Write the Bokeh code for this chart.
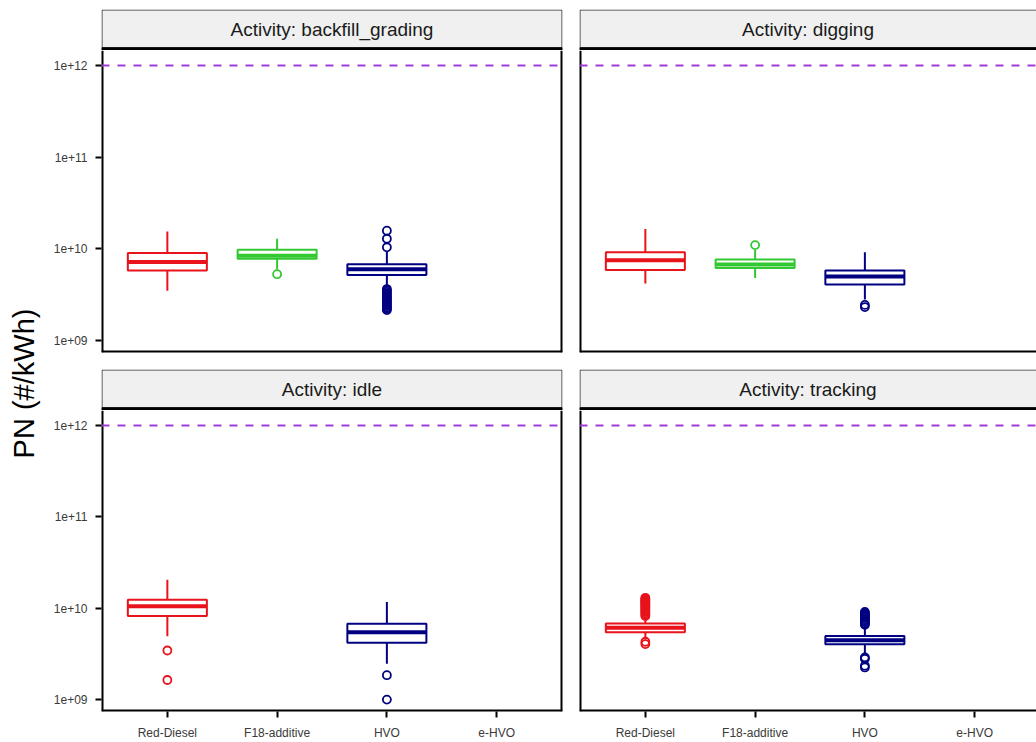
from math import pi

from bokeh.core.properties import value
from bokeh.embed import file_html
from bokeh.layouts import column, row
from bokeh.models import ColumnDataSource, FixedTicker, Range1d, Span
from bokeh.plotting import figure
from bokeh.resources import INLINE
from bokeh.transform import dodge

# ---------------------------------------------------------------- data
FUELS = ["Red-Diesel", "F18-additive", "HVO", "e-HVO"]
FUEL_COLORS = ["#e8131b", "#32c832", "#000080", "#7f7f7f"]
ACTIVITIES = ["backfill_grading", "digging", "idle", "tracking"]

Y_TICKS = [1e9, 1e10, 1e11, 1e12]
Y_TICK_LABELS = ["1e+09", "1e+10", "1e+11", "1e+12"]
PN_LIMIT = 1e12
Y_LABEL = "PN (#/kWh)"

# backfill_grading
bg_fuel = ["Red-Diesel", "F18-additive", "HVO"]
bg_low = [3.5e9, 5.95e9, 3.9e9]
bg_q1 = [5.8e9, 7.8e9, 5.2e9]
bg_med = [7.2e9, 8.4e9, 6.0e9]
bg_q3 = [9.0e9, 9.76e9, 6.8e9]
bg_high = [1.55e10, 1.29e10, 9.3e9]
bg_out_f18 = [5.3e9]
bg_out_hvo = [1.58e10, 1.29e10, 1.04e10,
              3.65e9, 3.52e9, 3.4e9, 3.28e9, 3.16e9, 3.05e9, 2.94e9, 2.84e9,
              2.74e9, 2.64e9, 2.55e9, 2.46e9, 2.38e9, 2.3e9, 2.22e9, 2.15e9]

# digging
dg_fuel = ["Red-Diesel", "F18-additive", "HVO"]
dg_low = [4.2e9, 4.8e9, 2.8e9]
dg_q1 = [5.9e9, 6.2e9, 4.1e9]
dg_med = [7.5e9, 6.75e9, 5.0e9]
dg_q3 = [9.2e9, 7.65e9, 5.8e9]
dg_high = [1.65e10, 9.7e9, 9.2e9]
dg_out_f18 = [1.1e10]
dg_out_hvo = [2.45e9, 2.32e9]

# idle
id_fuel = ["Red-Diesel", "HVO"]
id_low = [4.95e9, 2.47e9]
id_q1 = [8.2e9, 4.19e9]
id_med = [1.05e10, 5.47e9]
id_q3 = [1.24e10, 6.75e9]
id_high = [2.05e10, 1.17e10]
id_out_red = [3.45e9, 1.64e9]
id_out_hvo = [1.85e9, 1.0e9]

# tracking
tr_fuel = ["Red-Diesel", "HVO"]
tr_low = [4.55e9, 3.1e9]
tr_q1 = [5.47e9, 4.03e9]
tr_med = [6.1e9, 4.45e9]
tr_q3 = [6.8e9, 4.97e9]
tr_high = [7.8e9, 6.3e9]
tr_out_red = [1.3e10, 1.27e10, 1.24e10, 1.21e10, 1.18e10, 1.15e10, 1.12e10,
              1.09e10, 1.06e10, 1.03e10, 1.0e10, 9.7e9, 9.4e9, 9.1e9, 8.8e9,
              8.5e9, 8.2e9, 4.3e9, 4.05e9]
tr_out_hvo = [9.1e9, 8.85e9, 8.6e9, 8.35e9, 8.1e9, 7.85e9, 7.6e9, 7.4e9,
              7.2e9, 7.0e9, 6.8e9, 6.6e9, 2.9e9, 2.8e9, 2.35e9, 2.25e9]

# ---------------------------------------------------------------- styling
FONT = value("Liberation Sans")
FUEL_POS = {f: i + 1 for i, f in enumerate(FUELS)}
FUEL_COLOR = dict(zip(FUELS, FUEL_COLORS))
BOX_W = 0.72
Y_LO, Y_HI = 10 ** 8.87, 10 ** 12.164
X_LO = 0.4
PX_PER_UNIT = 461 / 4.2

LEFT_W, RIGHT_W = 521, 465          # figure widths of the two facet columns
LEFT_FRAME, RIGHT_FRAME = 461, 457  # plotting-area widths
LEFT_MB = (51, 9)
RIGHT_MB = (8, 0)


def border(p, loc, dim, width=4):
    p.add_layout(Span(location=loc, dimension=dim, line_color="black",
                      line_width=width))


def make_strip(label, width, frame_w, mb, closed):
    s = figure(width=width, height=50, x_range=Range1d(0, frame_w),
               y_range=Range1d(0, 41), min_border_top=9, min_border_bottom=0,
               min_border_left=mb[0], min_border_right=mb[1],
               x_axis_location=None, y_axis_location=None,
               toolbar_location=None, output_backend="svg")
    s.grid.visible = False
    s.outline_line_color = None
    s.border_fill_color = "white"
    s.background_fill_color = "white"
    right = frame_w - 0.5 if closed else frame_w + 5
    s.quad(left=0.5, right=right, bottom=3, top=40.5, fill_color="#f0f0f0",
           line_color="#333333", line_width=1)
    s.quad(left=-1, right=frame_w + 5, bottom=-1, top=3, fill_color="black",
           line_color=None)
    s.text(x=[frame_w / 2], y=[21.5], text=["Activity: " + label],
           text_align="center", text_baseline="middle", text_font=FONT,
           text_font_size="19px", text_color="#1a1a1a")
    return s


def make_panel(width, height, frame_w, mb, mb_bottom, show_x, show_y, closed,
               fuels, low, q1, med, q3, high, outliers):
    x_hi = X_LO + frame_w / PX_PER_UNIT
    p = figure(width=width, height=height, x_range=Range1d(X_LO, x_hi),
               y_range=Range1d(Y_LO, Y_HI), y_axis_type="log",
               x_axis_location="below" if show_x else None,
               y_axis_location="left" if show_y else None,
               min_border_left=mb[0], min_border_right=mb[1],
               min_border_top=0, min_border_bottom=mb_bottom,
               toolbar_location=None, output_backend="svg")
    p.grid.visible = False
    p.outline_line_color = None
    p.border_fill_color = "white"
    p.background_fill_color = "white"

    for ax in p.yaxis:
        ax.ticker = FixedTicker(ticks=Y_TICKS)
        ax.major_label_overrides = dict(zip(Y_TICKS, Y_TICK_LABELS))
    for ax in p.xaxis:
        ax.ticker = FixedTicker(ticks=[FUEL_POS[f] for f in FUELS])
        ax.major_label_overrides = {FUEL_POS[f]: f for f in FUELS}
    for ax in list(p.xaxis) + list(p.yaxis):
        ax.axis_line_color = None
        ax.major_tick_line_color = "black"
        ax.major_tick_line_width = 2
        ax.major_tick_out = 6
        ax.major_tick_in = 0
        ax.minor_tick_line_color = None
        ax.major_label_text_font = "Liberation Sans"
        ax.major_label_text_font_size = "12px"
        ax.major_label_text_color = "#3a3a3a"
        ax.major_label_standoff = 8

    # panel frame (left, bottom and, for the inner column, right edges)
    border(p, X_LO, "height")
    border(p, Y_LO, "width")
    if closed:
        border(p, x_hi, "height")

    # regulatory limit
    p.add_layout(Span(location=PN_LIMIT, dimension="width",
                      line_color="#a03cd6", line_width=2, line_dash="8 8"))

    src = ColumnDataSource(dict(
        x=[FUEL_POS[f] for f in fuels], low=low, q1=q1, med=med, q3=q3,
        high=high, color=[FUEL_COLOR[f] for f in fuels]))
    p.segment(x0="x", x1="x", y0="q3", y1="high", line_color="color",
              line_width=2, source=src)
    p.segment(x0="x", x1="x", y0="low", y1="q1", line_color="color",
              line_width=2, source=src)
    p.vbar(x="x", width=BOX_W, top="q3", bottom="q1", fill_color="white",
           line_color="color", line_width=2, source=src)
    p.segment(x0=dodge("x", -BOX_W / 2), x1=dodge("x", BOX_W / 2), y0="med",
              y1="med", line_color="color", line_width=4, source=src)

    for fuel, vals in outliers:
        p.scatter(x=[FUEL_POS[fuel]] * len(vals), y=vals, marker="circle",
                  size=8, fill_color=None, line_color=FUEL_COLOR[fuel],
                  line_width=1.8)
    return p


# ---------------------------------------------------------------- facets
strip_tl = make_strip(ACTIVITIES[0], LEFT_W, LEFT_FRAME, LEFT_MB, True)
strip_tr = make_strip(ACTIVITIES[1], RIGHT_W, RIGHT_FRAME, RIGHT_MB, False)
strip_bl = make_strip(ACTIVITIES[2], LEFT_W, LEFT_FRAME, LEFT_MB, True)
strip_br = make_strip(ACTIVITIES[3], RIGHT_W, RIGHT_FRAME, RIGHT_MB, False)

panel_tl = make_panel(LEFT_W, 310, LEFT_FRAME, LEFT_MB, 8, False, True, True,
                      bg_fuel, bg_low, bg_q1, bg_med, bg_q3, bg_high,
                      [("F18-additive", bg_out_f18), ("HVO", bg_out_hvo)])
panel_tr = make_panel(RIGHT_W, 310, RIGHT_FRAME, RIGHT_MB, 8, False, False, False,
                      dg_fuel, dg_low, dg_q1, dg_med, dg_q3, dg_high,
                      [("F18-additive", dg_out_f18), ("HVO", dg_out_hvo)])
panel_bl = make_panel(LEFT_W, 332, LEFT_FRAME, LEFT_MB, 30, True, True, True,
                      id_fuel, id_low, id_q1, id_med, id_q3, id_high,
                      [("Red-Diesel", id_out_red), ("HVO", id_out_hvo)])
panel_br = make_panel(RIGHT_W, 332, RIGHT_FRAME, RIGHT_MB, 30, True, False, False,
                      tr_fuel, tr_low, tr_q1, tr_med, tr_q3, tr_high,
                      [("Red-Diesel", tr_out_red), ("HVO", tr_out_hvo)])

# shared y-axis title
ylab = figure(width=50, height=742, x_range=Range1d(0, 50),
              y_range=Range1d(0, 742), min_border=0, x_axis_location=None,
              y_axis_location=None, toolbar_location=None, output_backend="svg")
ylab.grid.visible = False
ylab.outline_line_color = None
ylab.border_fill_color = "white"
ylab.text(x=[23], y=[359], text=[Y_LABEL], angle=pi / 2, text_align="center",
          text_baseline="middle", text_font=FONT, text_font_size="29px",
          text_color="black")

layout = row(ylab, column(row(strip_tl, strip_tr), row(panel_tl, panel_tr),
                          row(strip_bl, strip_br), row(panel_bl, panel_br)))

with open("out.html", "w") as fh:
    fh.write(file_html(layout, INLINE))
